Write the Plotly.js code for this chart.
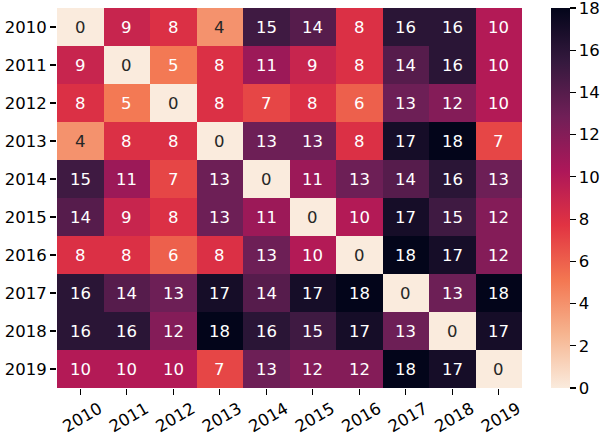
<!DOCTYPE html>
<html>
<head>
<meta charset="utf-8">
<script src="https://cdn.plot.ly/plotly-3.0.1.min.js"></script>
<style>
  html, body { margin: 0; padding: 0; background: #fff; }
  #plot { width: 608px; height: 436px; }
</style>
</head>
<body>
<div id="plot"></div>
<script>
const years = [2010, 2011, 2012, 2013, 2014, 2015, 2016, 2017, 2018, 2019];
const yearLabels = ["2010", "2011", "2012", "2013", "2014", "2015", "2016", "2017", "2018", "2019"];

const r2010 = [0, 9, 8, 4, 15, 14, 8, 16, 16, 10];
const r2011 = [9, 0, 5, 8, 11, 9, 8, 14, 16, 10];
const r2012 = [8, 5, 0, 8, 7, 8, 6, 13, 12, 10];
const r2013 = [4, 8, 8, 0, 13, 13, 8, 17, 18, 7];
const r2014 = [15, 11, 7, 13, 0, 11, 13, 14, 16, 13];
const r2015 = [14, 9, 8, 13, 11, 0, 10, 17, 15, 12];
const r2016 = [8, 8, 6, 8, 13, 10, 0, 18, 17, 12];
const r2017 = [16, 14, 13, 17, 14, 17, 18, 0, 13, 18];
const r2018 = [16, 16, 12, 18, 16, 15, 17, 13, 0, 17];
const r2019 = [10, 10, 10, 7, 13, 12, 12, 18, 17, 0];

const colorTicks = [0, 2, 4, 6, 8, 10, 12, 14, 16, 18];

const z = [r2010, r2011, r2012, r2013, r2014, r2015, r2016, r2017, r2018, r2019];

// rocket_r
const rocketR = [
	[0, "#FAEBDD"],
	[1 / 7, "#F6B48F"],
	[2 / 7, "#F37651"],
	[3 / 7, "#E13342"],
	[4 / 7, "#AD1759"],
	[5 / 7, "#701F57"],
	[6 / 7, "#35193E"],
	[1, "#03051A"]
];

const font = "DejaVu Sans, sans-serif";

let annotations = [];
z.forEach((row, i) => {
	row.forEach((v, j) => {
		annotations.push({
			x: years[j],
			y: years[i],
			xref: "x",
			yref: "y",
			text: String(v),
			showarrow: false,
			font: { family: font, size: 16.5, color: v < 5 ? "#262626" : "#ffffff" }
		});
	});
});

let traces = [
	{
		type: "heatmap",
		x: years,
		y: years,
		z: z,
		zmin: 0,
		zmax: 18,
		colorscale: rocketR,
		hoverinfo: "skip",
		colorbar: {
			x: 1.062,
			xanchor: "left",
			xpad: 0,
			ypad: 0,
			y: 0.5,
			yanchor: "middle",
			len: 380,
			lenmode: "pixels",
			thickness: 19,
			outlinewidth: 0,
			ticks: "outside",
			ticklen: 6,
			tickwidth: 1.2,
			tickcolor: "#000",
			tickvals: colorTicks,
			ticktext: colorTicks.map(String),
			ticklabeloverflow: "allow",
			tickfont: { family: font, size: 16.5, color: "#000" }
		}
	}
];

let layout = {
	width: 608,
	height: 436,
	margin: { l: 57, r: 83, t: 8, b: 48 },
	paper_bgcolor: "#fff",
	plot_bgcolor: "#fff",
	font: { family: font, color: "#000" },
	xaxis: {
		range: [2009.5, 2019.5],
		showgrid: false,
		zeroline: false,
		showline: false,
		ticks: "outside",
		ticklen: 6,
		tickwidth: 1.2,
		tickcolor: "#000",
		tickangle: -30,
		ticklabelshift: 19,
		ticklabelstandoff: -2,
		tickvals: years,
		ticktext: yearLabels,
		tickfont: { family: font, size: 16.5, color: "#000" }
	},
	yaxis: {
		range: [2019.5, 2009.5],
		showgrid: false,
		zeroline: false,
		showline: false,
		ticks: "outside",
		ticklen: 6,
		tickwidth: 1.2,
		tickcolor: "#000",
		tickvals: years,
		ticktext: yearLabels,
		tickfont: { family: font, size: 16.5, color: "#000" }
	},
	annotations: annotations
};

Plotly.newPlot("plot", traces, layout, { displayModeBar: false, staticPlot: true });
</script>
</body>
</html>
